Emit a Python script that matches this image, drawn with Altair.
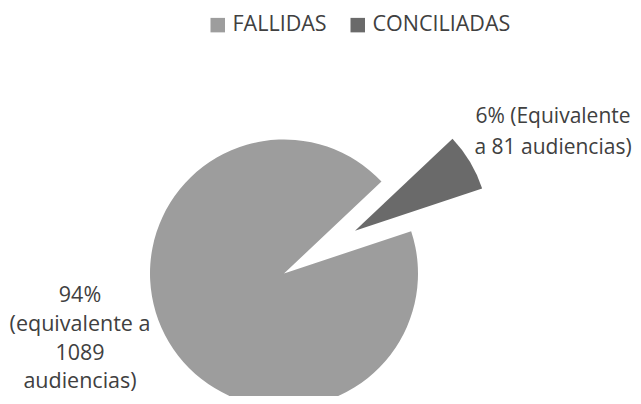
import math
import altair as alt
import pandas as pd

# --- data ---
categories = ["FALLIDAS", "CONCILIADAS"]
values = [1089, 81]
labels = ["94%\n(equivalente a\n1089\naudiencias)", "6% (Equivalente\na 81 audiencias)"]
colors = ["#9d9d9d", "#6a6a6a"]

df = pd.DataFrame({
    "cat": categories,
    "value": values,
    "label": labels,
    "order": list(range(len(categories))),
})

total = sum(values)
start = math.radians(71.6)
FONT = "Open Sans"
TXT = "#404040"
R = 134

base = alt.Chart(df).transform_stack(
    stack="value", as_=["v0", "v1"], groupby=[], sort=[alt.SortField("order")]
)

theta = alt.Theta("v0:Q", scale=alt.Scale(domain=[0, total], range=[start, start + 2 * math.pi]))
color = alt.Color(
    "cat:N",
    scale=alt.Scale(domain=categories, range=colors),
    legend=alt.Legend(
        orient="none", legendX=199, legendY=6, direction="horizontal", title=None,
        symbolType="square", symbolSize=210, symbolStrokeWidth=0,
        labelFont=FONT, labelFontSize=21.5, labelColor=TXT,
        labelOffset=4, columnPadding=20, padding=0,
    ),
    sort=categories,
)

main = base.transform_filter(alt.datum.cat == categories[0]).mark_arc(outerRadius=R).encode(
    theta=theta, theta2="v1:Q", color=color,
    x=alt.value(276), y=alt.value(265.5),
)
expl = base.transform_filter(alt.datum.cat == categories[1]).mark_arc(outerRadius=R).encode(
    theta=theta, theta2="v1:Q", color=color,
    x=alt.value(347), y=alt.value(222.7),
)

lab_main = alt.Chart(df).transform_filter(alt.datum.cat == categories[0]).mark_text(
    font=FONT, fontSize=21.5, color=TXT, align="center", baseline="alphabetic",
    lineBreak="\n", lineHeight=28.8,
).encode(text="label:N", x=alt.value(72), y=alt.value(294))

lab_expl = alt.Chart(df).transform_filter(alt.datum.cat == categories[1]).mark_text(
    font=FONT, fontSize=21, color=TXT, align="center", baseline="alphabetic",
    lineBreak="\n", lineHeight=30.5,
).encode(text="label:N", x=alt.value(545), y=alt.value(115))

chart = alt.layer(main, expl, lab_main, lab_expl).properties(
    width=625, height=388,
    autosize=alt.AutoSizeParams(type="none"),
    padding=0,
).configure_view(stroke=None)

chart.save("out.html", embed_options={"renderer": "svg", "actions": False})
